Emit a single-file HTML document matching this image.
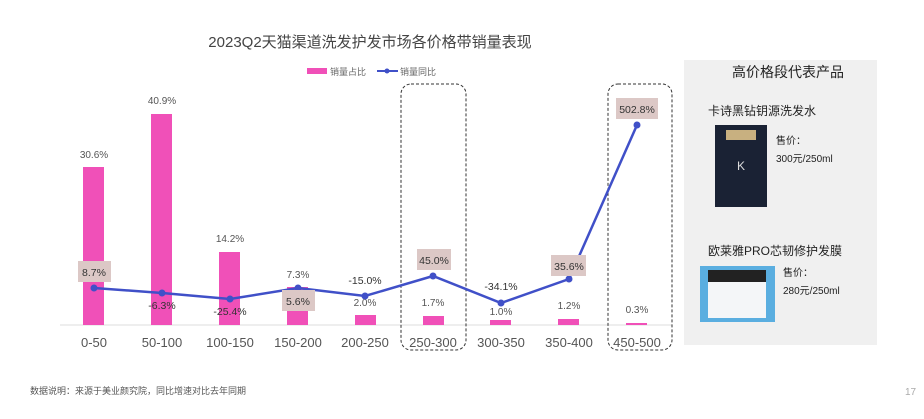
<!DOCTYPE html>
<html><head><meta charset="utf-8"><style>
body{margin:0;width:924px;height:414px;background:#fff;overflow:hidden;font-family:"Liberation Sans","Noto Sans CJK SC",sans-serif;}
</style></head><body>
<svg width="924" height="414" xmlns="http://www.w3.org/2000/svg" font-family="Liberation Sans, Noto Sans CJK SC, sans-serif">
<text x="370" y="47" font-size="15" fill="#444" text-anchor="middle">2023Q2天猫渠道洗发护发市场各价格带销量表现</text>
<rect x="307" y="68" width="20" height="6" fill="#f050b8"/>
<text x="330" y="75" font-size="9" fill="#666">销量占比</text>
<line x1="377" y1="71" x2="398" y2="71" stroke="#4050c8" stroke-width="2"/><circle cx="387" cy="71" r="2.5" fill="#4050c8"/>
<text x="400" y="75" font-size="9" fill="#666">销量同比</text>
<rect x="684" y="60" width="193" height="285" fill="#f0f0f0"/>
<line x1="60" y1="325" x2="672" y2="325" stroke="#ddd"/>
<rect x="401" y="84" width="65" height="266" rx="10" fill="none" stroke="#333" stroke-dasharray="3,2"/>
<rect x="608" y="84" width="64" height="266" rx="10" fill="none" stroke="#333" stroke-dasharray="3,2"/>
<g fill="#f050b8">
<rect x="83" y="167" width="21" height="158"/>
<rect x="151" y="114" width="21" height="211"/>
<rect x="219" y="252" width="21" height="73"/>
<rect x="287" y="287" width="21" height="38"/>
<rect x="355" y="315" width="21" height="10"/>
<rect x="423" y="316" width="21" height="9"/>
<rect x="490" y="320" width="21" height="5"/>
<rect x="558" y="319" width="21" height="6"/>
<rect x="626" y="323" width="21" height="2"/>
</g>
<g font-size="10" fill="#555" text-anchor="middle">
<text x="94" y="158">30.6%</text><text x="162" y="104">40.9%</text><text x="230" y="242">14.2%</text>
<text x="298" y="278">7.3%</text><text x="365" y="306">2.0%</text><text x="433" y="306">1.7%</text>
<text x="501" y="315">1.0%</text><text x="569" y="309">1.2%</text><text x="637" y="313">0.3%</text>
</g>
<polyline points="94,288 162,293 230,299 298,288 365,296 433,276 501,303 569,279 637,125" fill="none" stroke="#4050c8" stroke-width="2.5"/>
<g fill="#4050c8"><circle cx="94" cy="288" r="3.5"/><circle cx="162" cy="293" r="3.5"/><circle cx="230" cy="299" r="3.5"/><circle cx="298" cy="288" r="3.5"/><circle cx="365" cy="296" r="3.5"/><circle cx="433" cy="276" r="3.5"/><circle cx="501" cy="303" r="3.5"/><circle cx="569" cy="279" r="3.5"/><circle cx="637" cy="125" r="3.5"/></g>
<g fill="#dcc8c6">
<rect x="78" y="261" width="33" height="21"/><rect x="417" y="249" width="34" height="21"/><rect x="551" y="255" width="35" height="21"/><rect x="616" y="98" width="42" height="21"/><rect x="282" y="290" width="33" height="21"/>
</g>
<g font-size="10.5" fill="#333" text-anchor="middle">
<text x="94" y="276">8.7%</text><text x="434" y="264">45.0%</text><text x="569" y="270">35.6%</text><text x="637" y="113">502.8%</text><text x="298" y="305">5.6%</text>
<text x="162" y="309">-6.3%</text><text x="230" y="315">-25.4%</text><text x="365" y="284">-15.0%</text><text x="501" y="290">-34.1%</text>
</g>
<g font-size="13" fill="#555" text-anchor="middle">
<text x="94" y="347">0-50</text><text x="162" y="347">50-100</text><text x="230" y="347">100-150</text><text x="298" y="347">150-200</text><text x="365" y="347">200-250</text><text x="433" y="347">250-300</text><text x="501" y="347">300-350</text><text x="569" y="347">350-400</text><text x="637" y="347">450-500</text>
</g>
<text x="788" y="77" font-size="14" fill="#222" text-anchor="middle">高价格段代表产品</text>
<text x="708" y="115" font-size="12" fill="#222">卡诗黑钻钥源洗发水</text>
<rect x="715" y="125" width="52" height="82" fill="#1a2234"/>
<rect x="726" y="130" width="30" height="10" fill="#c8b080"/>
<text x="741" y="170" font-size="12" fill="#ddd" text-anchor="middle">K</text>
<text x="776" y="144" font-size="10" fill="#222">售价：</text>
<text x="776" y="162" font-size="10" fill="#222">300元/250ml</text>
<text x="708" y="255" font-size="12" fill="#222">欧莱雅PRO芯韧修护发膜</text>
<rect x="700" y="266" width="75" height="56" fill="#5aaee0"/>
<rect x="708" y="270" width="58" height="48" fill="#f4f6f8"/>
<rect x="708" y="270" width="58" height="12" fill="#222"/>
<text x="783" y="276" font-size="10" fill="#222">售价：</text>
<text x="783" y="294" font-size="10" fill="#222">280元/250ml</text>
<text x="30" y="394" font-size="9" fill="#555">数据说明：来源于美业颜究院，同比增速对比去年同期</text>
<text x="905" y="395" font-size="10" fill="#aaa">17</text>
</svg>
</body></html>
